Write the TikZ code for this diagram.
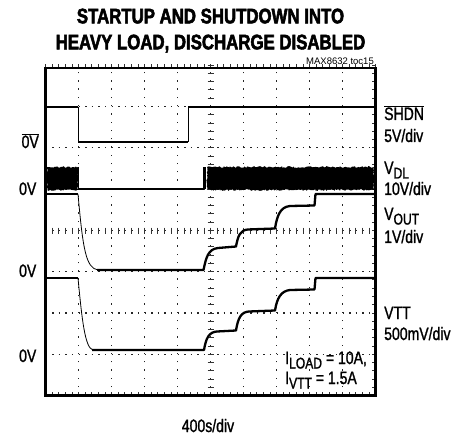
\documentclass[tikz,border=0pt]{standalone}
\usepackage{fontspec}
\setmainfont{Liberation Sans}[FakeStretch=0.78,FakeBold=1.2]
\newfontfamily\titlefont{Liberation Sans Bold}[FakeStretch=0.8,FakeBold=2.5]
\newfontfamily\tocfont{Liberation Sans}
\usetikzlibrary{calc,decorations.pathmorphing}
\newcommand\sub[1]{\raisebox{-4.5pt}{\fontsize{15.5}{15.5}\selectfont #1}}
\tikzset{
   frame/.style = {line width=2.4pt},
   vgrid/.style = {line width=1.4pt, black!85, dash pattern=on 1.4pt off 6.86pt},
   hgrid/.style = {line width=1.4pt, black!85, dash pattern=on 1.4pt off 5.2pt},
   tick/.style  = {line width=0.8pt, black!80},
   trace/.style = {line width=2.3pt, line join=round},
   edge/.style  = {line width=0.8pt},
   band/.style  = {fill=black, decorate, decoration={random steps, segment length=1.3pt, amplitude=0.9pt}},
   lbl/.style   = {font=\fontsize{18}{18}\selectfont, inner sep=0pt},
}

\begin{document}
\begin{tikzpicture}[x=1pt,y=-1pt]
   \fill[white] (0,0) rectangle (471,438);
   \useasboundingbox (0,0) rectangle (471,438);

   % title
   \node[font=\titlefont\fontsize{21}{21}\selectfont, anchor=base] (title1) at (210.5,23.3) {STARTUP AND SHUTDOWN INTO};
   \node[font=\titlefont\fontsize{21}{21}\selectfont, anchor=base] (title2) at (210.5,49.3) {HEAVY LOAD, DISCHARGE DISABLED};
   \node[font=\tocfont\fontsize{9.5}{9.5}\selectfont, inner sep=0pt, anchor=base east] (toc) at (374,64.3) {MAX8632 toc15};

   % graticule
   \foreach \gx in {78.5,111.5,...,342.5}
      \draw[vgrid] (\gx,395.5) -- (\gx,68);
   \foreach \gy in {1,...,7}
      \draw[hgrid] (45.5,{395.5-41.3*\gy}) -- (375.5,{395.5-41.3*\gy});
   \foreach \k in {0,...,50} {
      \draw[tick] ({45.5+6.6*\k},227.7) -- ++(0,6);
      \draw[tick] ({45.5+6.6*\k},68) -- ++(0,-3.5);
      \draw[tick] ({45.5+6.6*\k},395.5) -- ++(0,-4);
   }
   \foreach \k in {0,...,40} {
      \draw[tick] (207.5,{395.5-8.26*\k}) -- ++(6,0);
      \draw[tick] (375.5,{395.5-8.26*\k}) -- ++(-4,0);
   }
   \draw[frame] (45.5,68) rectangle (375.5,395.5);

   % SHDN
   \draw[trace] (46,107) -- (78,107);
   \draw[edge]  (78,107) -- (78,142);
   \draw[trace] (78,142) -- (188,142);
   \draw[edge]  (188,142) -- (188,107);
   \draw[trace] (188,107) -- (375,107);

   % VDL
   \fill[band] (47,167) rectangle (78,190);
   \draw[edge]  (78,167) -- (78,189);
   \draw[trace] (78,189) -- (203.5,189);
   \fill[black] (203,167) rectangle (205.5,189);
   \fill[band] (207,167) rectangle (374,190);

   % VOUT
   \draw[trace] (46,194) -- (78,194);
   \draw[edge]  (78,194) .. controls (83,250) and (86,268) .. (98,270);
   \draw[trace] (97,270) -- (203.5,270)
      .. controls (206,258) and (208,249) .. (218,248) -- (236,246.5)
      .. controls (238,236) and (240,230) .. (248,229.5) -- (275,228.5)
      .. controls (277,216) and (280,207) .. (290,206) -- (314.5,205.5)
      -- (315.5,194) -- (375,194);

   % VTT
   \draw[trace] (46,278) -- (78,278);
   \draw[edge]  (78,278) .. controls (82,320) and (85,348) .. (93,350);
   \draw[trace] (92,350) -- (204,350)
      .. controls (206,338) and (209,332) .. (217,331.5) -- (236,330.5)
      .. controls (238,318) and (241,312) .. (249,311.5) -- (275,310.5)
      .. controls (277,298) and (281,291) .. (290,290) -- (314.5,289.5)
      -- (315.5,278) -- (375,278);

   % ground levels
   \node[lbl, anchor=base east] (shdnzero) at (39,148) {$\overline{\hbox{0V}}$};
   \node[lbl, anchor=base east] (dlzero)   at (36.5,195) {0V};
   \node[lbl, anchor=base east] (outzero)  at (36.5,277) {0V};
   \node[lbl, anchor=base east] (vttzero)  at (36.5,362) {0V};

   % channel names and scales
   \node[lbl, anchor=base west] (shdnname)  at (384,120) {$\overline{\hbox{SHDN}}$};
   \node[lbl, anchor=base west] (shdnscale) at (384,142) {5V/div};
   \node[lbl, anchor=base west] (dlname)    at (384,174) {V\sub{DL}};
   \node[lbl, anchor=base west] (dlscale)   at (384,195) {10V/div};
   \node[lbl, anchor=base west] (outname)   at (384,220) {V\sub{OUT}};
   \node[lbl, anchor=base west] (outscale)  at (384,243) {1V/div};
   \node[lbl, anchor=base west] (vttname)   at (384,319) {VTT};
   \node[lbl, anchor=base west] (vttscale)  at (384,340) {500mV/div};

   % conditions
   \node[lbl, anchor=base west] (iload) at (285,364) {I\sub{LOAD} = 10A,};
   \node[lbl, anchor=base west] (ivtt)  at (285,384) {I\sub{VTT} = 1.5A};

   \node[lbl, anchor=base] (timescale) at (208,432) {400s/div};
\end{tikzpicture}
\end{document}
